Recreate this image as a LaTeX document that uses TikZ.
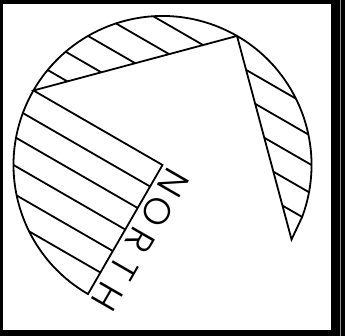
\documentclass[tikz,border=0pt]{standalone}
\usepackage{fontspec}
\setmainfont{Poppins}[UprightFont=* Light]
\usepackage{tikz}
\usetikzlibrary{calc}
\definecolor{myink}{RGB}{0,0,0}
\definecolor{myframe}{RGB}{0,0,0}
\definecolor{myseam}{RGB}{150,150,150}
\tikzset{
  outline/.style={line width=1.8pt, color=myink, line join=miter},
  hatch/.style={line width=1.8pt, color=myink},
  letter/.style={font=\fontsize{10pt}{12pt}\selectfont, inner sep=0pt,
    scale=3.7, rotate=-120, color=myink}
}

\begin{document}
\begin{tikzpicture}[x=1pt, y=1pt]
  % ── Frame ──────────────────────────────────────────────────────────────
  \fill[myframe] (0,0) rectangle (345,336);
  \useasboundingbox (0,0) rectangle (345,336);
  \fill[white] (3,6) rectangle (331,332);
  \draw[myseam, line width=0.8pt] (340.5,0) -- (340.5,336);

  % ── Compass disc ───────────────────────────────────────────────────────
  \begin{scope}[shift={(162.5pt,171pt)}, rotate=-30, x=149pt, y=149pt]
    \coordinate (hub) at (0,0);
    \coordinate (west) at (180:1);
    \coordinate (apex) at (90:1);
    \coordinate (tip) at (0:1);
    \coordinate (lip) at ({asin(1/6)}:1);
    % Outline: arc, quarter sector and the two chords
    \draw[outline] (lip) arc[start angle={asin(1/6)}, end angle=270, radius=1]
      -- (hub) -- (west) -- (apex) -- (tip) -- cycle;
    % Hatching
    \foreach \k in {1,...,5} {
      \pgfmathsetmacro{\yy}{\k/6}
      \pgfmathsetmacro{\xx}{sqrt(1-\yy*\yy)}
      \draw[hatch] (-\xx,\yy) -- ({\yy-1},\yy);   % top
      \draw[hatch] ({1-\yy},\yy) -- (\xx,\yy);    % right
      \draw[hatch] (-\xx,-\yy) -- (0,-\yy);       % left
    }
    % Label
    \foreach \c [count=\i] in {N,O,R,T,H}
      \node[letter] (n\i) at (0.125, {-(10+33*(\i-1))/149}) {\c};
  \end{scope}
\end{tikzpicture}
\end{document}
